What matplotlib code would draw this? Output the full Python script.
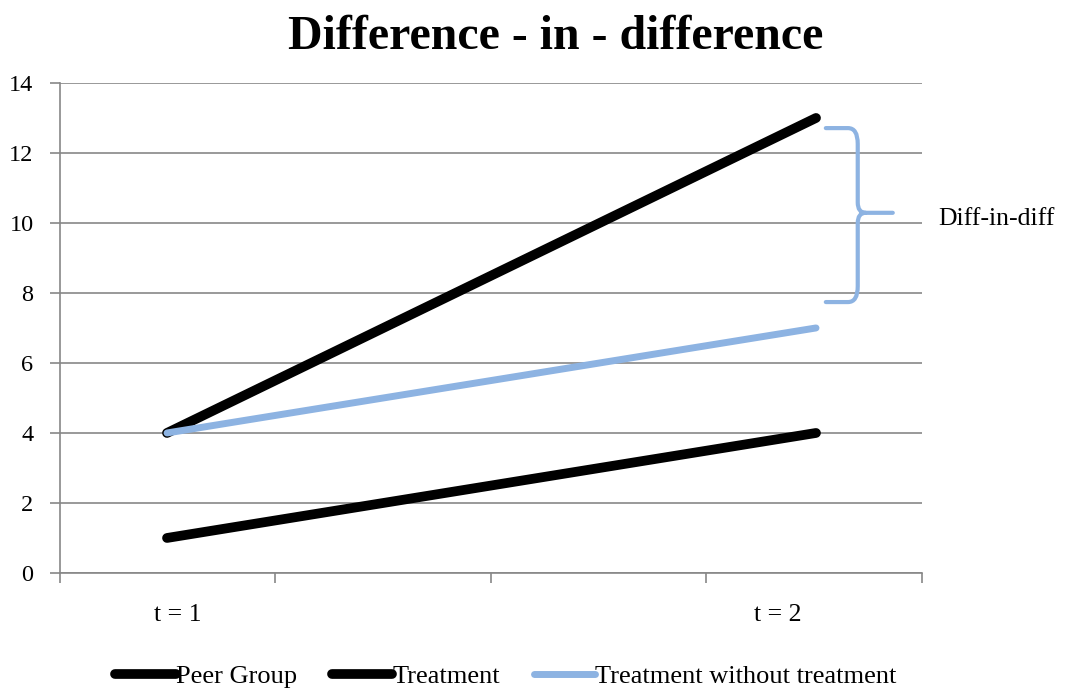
import numpy as np
import matplotlib.pyplot as plt
from matplotlib.path import Path
from matplotlib.patches import PathPatch

# data
periods = ['t = 1', 't = 2']
peer_group = [1, 4]
treatment = [4, 13]
no_treatment = [4, 7]   # treatment group without treatment (counterfactual)
y_ticks = [0, 2, 4, 6, 8, 10, 12, 14]

black = '#000000'
blue = '#8db3e2'
grey = '#878787'

plt.rcParams['font.family'] = ['Liberation Serif', 'DejaVu Serif']

fig = plt.figure(figsize=(10.81, 6.93), dpi=100)
ax = fig.add_axes([0.0555, 0.1732, 0.7974, 0.7071])

x = np.arange(len(periods))
ax.plot(x, peer_group, color=black, lw=7, solid_capstyle='round', label='Peer Group', zorder=3)
ax.plot(x, treatment, color=black, lw=7, solid_capstyle='round', label='Treatment', zorder=3)
ax.plot(x, no_treatment, color=blue, lw=5, solid_capstyle='round',
        label='Treatment without treatment', zorder=4)

# axis frame like excel: category axis with 4 divisions
x0, x1 = -0.1649, 1.1633
ax.set_xlim(x0, x1)
ax.set_ylim(0, 14)
ax.set_yticks(y_ticks)
ax.set_xticks(np.linspace(x0, x1, 5))
ax.set_xticklabels([])
ax.set_xticks([x[0] + 0.017, x[0] + 0.941], periods, minor=True)
ax.tick_params(axis='x', which='minor', length=0, pad=22, labelsize=18.5)
ax.tick_params(axis='x', which='major', length=7, width=1.2, color=grey, direction='out')
ax.tick_params(axis='y', length=7, width=1.2, color=grey, direction='out', pad=12, labelsize=17.5)
ax.grid(axis='y', color=grey, lw=1.2)
ax.set_axisbelow(True)
for s in ['top', 'right']:
    ax.spines[s].set_visible(False)
for s in ['left', 'bottom']:
    ax.spines[s].set_color(grey)
    ax.spines[s].set_linewidth(1.2)

# curly brace marking the diff-in-diff gap
bx0, bx1, bx2 = 1.0151, 1.0643, 1.1183
yt, ym, yb = 12.71, 10.29, 7.74
verts = [(bx0, yt), (bx1 - 0.015, yt), (bx1, yt), (bx1, yt - 0.45),
         (bx1, ym + 0.3), (bx1, ym), (bx1 + 0.012, ym), (bx2, ym),
         (bx1 + 0.012, ym), (bx1, ym), (bx1, ym - 0.3),
         (bx1, yb + 0.45), (bx1, yb), (bx1 - 0.015, yb), (bx0, yb)]
codes = [Path.MOVETO, Path.LINETO, Path.CURVE3, Path.CURVE3,
         Path.LINETO, Path.CURVE3, Path.CURVE3, Path.LINETO,
         Path.MOVETO, Path.CURVE3, Path.CURVE3,
         Path.LINETO, Path.CURVE3, Path.CURVE3, Path.LINETO]
ax.add_patch(PathPatch(Path(verts, codes), fill=False, edgecolor=blue, lw=3,
                       capstyle='round', joinstyle='round', clip_on=False, zorder=5))
ax.text(1.1885, 10.12, 'Diff-in-diff', fontsize=18.5, va='center', ha='left', clip_on=False)

fig.suptitle('Difference - in - difference', x=0.514, y=0.978, fontsize=34.5,
             fontweight='bold', family=['Liberation Serif'], va='top')

fig.legend(loc='center', bbox_to_anchor=(0.468, 0.024), ncol=3, frameon=False, fontsize=19,
           handlelength=2.3, handletextpad=0.0, columnspacing=1.3)

fig.savefig('out.png', dpi=100)
